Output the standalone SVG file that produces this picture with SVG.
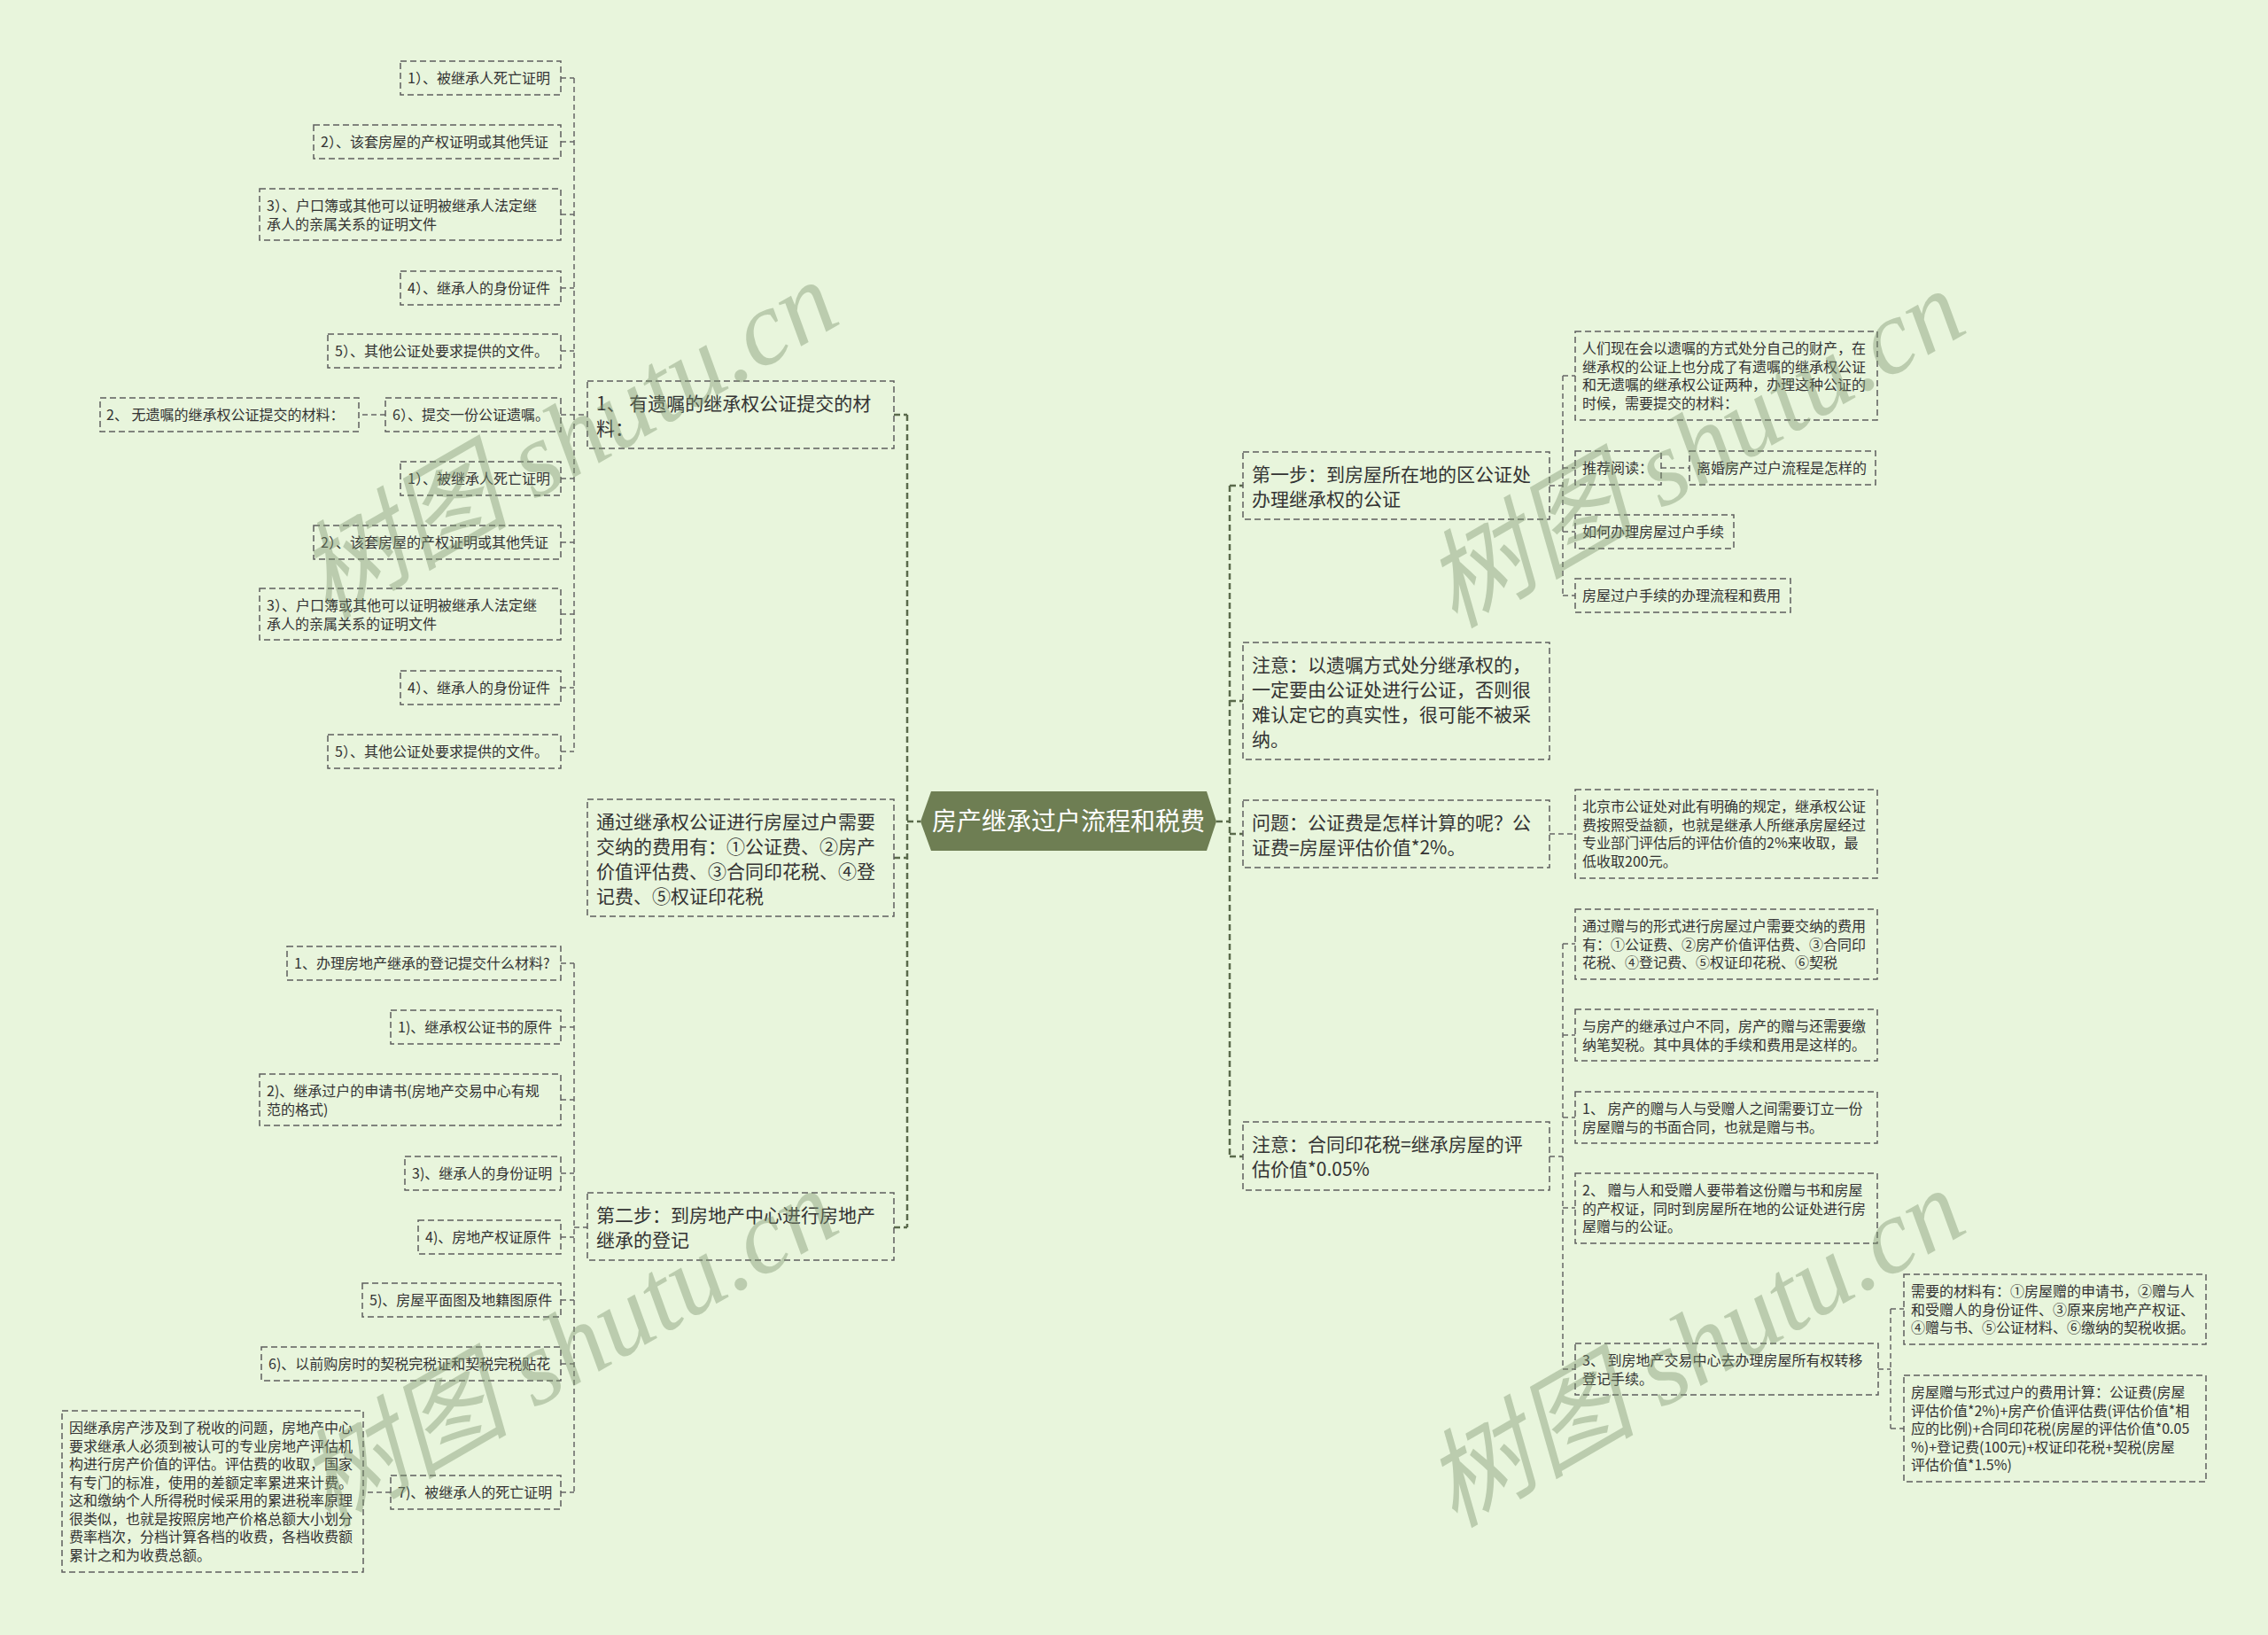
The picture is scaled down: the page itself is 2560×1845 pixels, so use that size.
<svg xmlns="http://www.w3.org/2000/svg" width="2560" height="1845" viewBox="0 0 2560 1845">
<style>
.bg{fill:#e8f5dc}
.box1,.box2{fill:none;stroke:#5e5e5e;stroke-width:1.5;stroke-dasharray:7 4}
.t1{font-family:"Noto Sans CJK SC","Noto Sans",sans-serif;font-size:21px;fill:#333}
.t2{font-family:"Noto Sans CJK SC","Noto Sans",sans-serif;font-size:16px;fill:#333}
.rt{font-family:"Noto Sans CJK SC","Noto Sans",sans-serif;font-size:28px;fill:#ffffff}
.trunk{fill:none;stroke:#5a6a4b;stroke-width:2.5;stroke-dasharray:7 4}
.link{fill:none;stroke:#666;stroke-width:1.5;stroke-dasharray:6 4}
.wm{font-family:"Liberation Serif","Noto Sans CJK SC",serif;font-style:italic;font-size:120px;fill:#7f9670;opacity:0.42}
</style>
<rect class="bg" x="0" y="0" width="2560" height="1845"/>

<g id="connectors">
  <path class="trunk" d="M1024,468 V1385 M1009,468 H1024 M1009,968 H1024 M1009,1385 H1024 M1024,927 H1039"/>
  <path class="trunk" d="M1388,548 V1305 M1373,927 H1388 M1388,548 H1403 M1388,791 H1403 M1388,941 H1403 M1388,1305 H1403"/>
  <path class="link" d="M648,88 V848 M633,88 H648 M633,160 H648 M633,242 H648 M633,325 H648 M633,396 H648 M633,468 H663 M633,540 H648 M633,612 H648 M633,693 H648 M633,776 H648 M633,848 H648"/>
  <path class="link" d="M435,468 H405"/>
  <path class="link" d="M648,1087 V1684 M633,1087 H648 M633,1159 H648 M633,1241 H648 M633,1324 H648 M633,1396 H648 M633,1467 H648 M633,1539 H648 M633,1684 H648 M648,1385 H663"/>
  <path class="link" d="M441,1684 H410"/>
  <path class="link" d="M1764,424 V672 M1749,548 H1764 M1764,424 H1778 M1764,528 H1778 M1764,600 H1778 M1764,672 H1778"/>
  <path class="link" d="M1875,528 H1907"/>
  <path class="link" d="M1749,941 H1778"/>
  <path class="link" d="M1764,1065 V1545 M1749,1305 H1764 M1764,1065 H1778 M1764,1168 H1778 M1764,1261 H1778 M1764,1363 H1778 M1764,1545 H1778"/>
  <path class="link" d="M2134,1477 V1612 M2120,1545 H2134 M2134,1477 H2149 M2134,1612 H2149"/>
</g>

<g id="root">
  <polygon points="1039,927 1051,893 1362,893 1373,927 1362,960 1051,960" fill="#6e7e53"/>
  <text class="rt" x="1206" y="937" text-anchor="middle">房产继承过户流程和税费</text>
</g>

<g id="L1a"><rect class="box1" x="663" y="430" width="346" height="76"/>
  <text class="t1"><tspan x="673" y="463">1、 有遗嘱的继承权公证提交的材</tspan><tspan x="673" y="491">料：</tspan></text></g>
<g id="L1b"><rect class="box1" x="663" y="902" width="346" height="132"/>
  <text class="t1"><tspan x="673" y="935">通过继承权公证进行房屋过户需要</tspan><tspan x="673" y="963">交纳的费用有：①公证费、②房产</tspan><tspan x="673" y="991">价值评估费、③合同印花税、④登</tspan><tspan x="673" y="1019">记费、⑤权证印花税</tspan></text></g>
<g id="L1c"><rect class="box1" x="663" y="1346" width="346" height="76"/>
  <text class="t1"><tspan x="673" y="1379">第二步：到房地产中心进行房地产</tspan><tspan x="673" y="1407">继承的登记</tspan></text></g>

<g id="R1"><rect class="box1" x="1403" y="510" width="346" height="76"/>
  <text class="t1"><tspan x="1413" y="543">第一步：到房屋所在地的区公证处</tspan><tspan x="1413" y="571">办理继承权的公证</tspan></text></g>
<g id="R2"><rect class="box1" x="1403" y="725" width="346" height="132"/>
  <text class="t1"><tspan x="1413" y="758">注意：以遗嘱方式处分继承权的，</tspan><tspan x="1413" y="786">一定要由公证处进行公证，否则很</tspan><tspan x="1413" y="814">难认定它的真实性，很可能不被采</tspan><tspan x="1413" y="842">纳。</tspan></text></g>
<g id="R3"><rect class="box1" x="1403" y="903" width="346" height="76"/>
  <text class="t1"><tspan x="1413" y="936">问题：公证费是怎样计算的呢？公</tspan><tspan x="1413" y="964">证费=房屋评估价值*2%。</tspan></text></g>
<g id="R4"><rect class="box1" x="1403" y="1266" width="346" height="77"/>
  <text class="t1"><tspan x="1413" y="1299">注意：合同印花税=继承房屋的评</tspan><tspan x="1413" y="1327">估价值*0.05%</tspan></text></g>

<g id="a1"><rect class="box2" x="452" y="69" width="181" height="38"/><text class="t2" x="460" y="94">1）、被继承人死亡证明</text></g>
<g id="a2"><rect class="box2" x="354" y="141" width="279" height="38"/><text class="t2" x="362" y="166">2）、该套房屋的产权证明或其他凭证</text></g>
<g id="a3"><rect class="box2" x="293" y="213" width="340" height="58"/><text class="t2"><tspan x="301" y="238">3）、户口簿或其他可以证明被继承人法定继</tspan><tspan x="301" y="258.5">承人的亲属关系的证明文件</tspan></text></g>
<g id="a4"><rect class="box2" x="452" y="306" width="181" height="38"/><text class="t2" x="460" y="331">4）、继承人的身份证件</text></g>
<g id="a5"><rect class="box2" x="370" y="377" width="263" height="38"/><text class="t2" x="378" y="402">5）、其他公证处要求提供的文件。</text></g>
<g id="a6"><rect class="box2" x="435" y="449" width="198" height="38"/><text class="t2" x="443" y="474">6）、提交一份公证遗嘱。</text></g>
<g id="a6c"><rect class="box2" x="113" y="449" width="292" height="38"/><text class="t2" x="120" y="474">2、 无遗嘱的继承权公证提交的材料：</text></g>
<g id="a7"><rect class="box2" x="452" y="521" width="181" height="38"/><text class="t2" x="460" y="546">1）、被继承人死亡证明</text></g>
<g id="a8"><rect class="box2" x="354" y="593" width="279" height="38"/><text class="t2" x="362" y="618">2）、该套房屋的产权证明或其他凭证</text></g>
<g id="a9"><rect class="box2" x="293" y="664" width="340" height="58"/><text class="t2"><tspan x="301" y="689">3）、户口簿或其他可以证明被继承人法定继</tspan><tspan x="301" y="709.5">承人的亲属关系的证明文件</tspan></text></g>
<g id="a10"><rect class="box2" x="452" y="757" width="181" height="38"/><text class="t2" x="460" y="782">4）、继承人的身份证件</text></g>
<g id="a11"><rect class="box2" x="370" y="829" width="263" height="38"/><text class="t2" x="378" y="854">5）、其他公证处要求提供的文件。</text></g>

<g id="b1"><rect class="box2" x="324" y="1068" width="309" height="38"/><text class="t2" x="332" y="1093">1、办理房地产继承的登记提交什么材料?</text></g>
<g id="b2"><rect class="box2" x="441" y="1140" width="192" height="38"/><text class="t2" x="449" y="1165">1)、继承权公证书的原件</text></g>
<g id="b3"><rect class="box2" x="293" y="1212" width="340" height="58"/><text class="t2"><tspan x="301" y="1237">2)、继承过户的申请书(房地产交易中心有规</tspan><tspan x="301" y="1257.5">范的格式)</tspan></text></g>
<g id="b4"><rect class="box2" x="457" y="1305" width="176" height="38"/><text class="t2" x="465" y="1330">3)、继承人的身份证明</text></g>
<g id="b5"><rect class="box2" x="472" y="1377" width="161" height="38"/><text class="t2" x="480" y="1402">4)、房地产权证原件</text></g>
<g id="b6"><rect class="box2" x="409" y="1448" width="224" height="38"/><text class="t2" x="417" y="1473">5)、房屋平面图及地籍图原件</text></g>
<g id="b7"><rect class="box2" x="295" y="1520" width="338" height="38"/><text class="t2" x="303" y="1545">6)、以前购房时的契税完税证和契税完税贴花</text></g>
<g id="b8"><rect class="box2" x="441" y="1665" width="192" height="38"/><text class="t2" x="449" y="1690">7)、被继承人的死亡证明</text></g>
<g id="b8c"><rect class="box2" x="70" y="1592" width="340" height="182"/><text class="t2"><tspan x="78" y="1617">因继承房产涉及到了税收的问题，房地产中心</tspan><tspan x="78" y="1637.5">要求继承人必须到被认可的专业房地产评估机</tspan><tspan x="78" y="1658">构进行房产价值的评估。评估费的收取，国家</tspan><tspan x="78" y="1678.5">有专门的标准，使用的差额定率累进来计费。</tspan><tspan x="78" y="1699">这和缴纳个人所得税时候采用的累进税率原理</tspan><tspan x="78" y="1719.5">很类似，也就是按照房地产价格总额大小划分</tspan><tspan x="78" y="1740">费率档次，分档计算各档的收费，各档收费额</tspan><tspan x="78" y="1760.5">累计之和为收费总额。</tspan></text></g>

<g id="c1"><rect class="box2" x="1778" y="374" width="341" height="100"/><text class="t2"><tspan x="1786" y="399">人们现在会以遗嘱的方式处分自己的财产，在</tspan><tspan x="1786" y="419.5">继承权的公证上也分成了有遗嘱的继承权公证</tspan><tspan x="1786" y="440">和无遗嘱的继承权公证两种，办理这种公证的</tspan><tspan x="1786" y="460.5">时候，需要提交的材料：</tspan></text></g>
<g id="c2"><rect class="box2" x="1778" y="509" width="97" height="38"/><text class="t2" x="1786" y="534">推荐阅读：</text></g>
<g id="c2c"><rect class="box2" x="1907" y="509" width="210" height="38"/><text class="t2" x="1915" y="534">离婚房产过户流程是怎样的</text></g>
<g id="c3"><rect class="box2" x="1778" y="581" width="179" height="38"/><text class="t2" x="1786" y="606">如何办理房屋过户手续</text></g>
<g id="c4"><rect class="box2" x="1778" y="653" width="243" height="38"/><text class="t2" x="1786" y="678">房屋过户手续的办理流程和费用</text></g>

<g id="d1"><rect class="box2" x="1778" y="891" width="341" height="100"/><text class="t2"><tspan x="1786" y="916">北京市公证处对此有明确的规定，继承权公证</tspan><tspan x="1786" y="936.5">费按照受益额，也就是继承人所继承房屋经过</tspan><tspan x="1786" y="957">专业部门评估后的评估价值的2%来收取，最</tspan><tspan x="1786" y="977.5">低收取200元。</tspan></text></g>

<g id="e1"><rect class="box2" x="1778" y="1026" width="341" height="79"/><text class="t2"><tspan x="1786" y="1051">通过赠与的形式进行房屋过户需要交纳的费用</tspan><tspan x="1786" y="1071.5">有：①公证费、②房产价值评估费、③合同印</tspan><tspan x="1786" y="1092">花税、④登记费、⑤权证印花税、⑥契税</tspan></text></g>
<g id="e2"><rect class="box2" x="1778" y="1139" width="341" height="58"/><text class="t2"><tspan x="1786" y="1164">与房产的继承过户不同，房产的赠与还需要缴</tspan><tspan x="1786" y="1184.5">纳笔契税。其中具体的手续和费用是这样的。</tspan></text></g>
<g id="e3"><rect class="box2" x="1778" y="1232" width="341" height="58"/><text class="t2"><tspan x="1786" y="1257">1、 房产的赠与人与受赠人之间需要订立一份</tspan><tspan x="1786" y="1277.5">房屋赠与的书面合同，也就是赠与书。</tspan></text></g>
<g id="e4"><rect class="box2" x="1778" y="1324" width="341" height="79"/><text class="t2"><tspan x="1786" y="1349">2、 赠与人和受赠人要带着这份赠与书和房屋</tspan><tspan x="1786" y="1369.5">的产权证，同时到房屋所在地的公证处进行房</tspan><tspan x="1786" y="1390">屋赠与的公证。</tspan></text></g>
<g id="e5"><rect class="box2" x="1778" y="1516" width="342" height="58"/><text class="t2"><tspan x="1786" y="1541">3、 到房地产交易中心去办理房屋所有权转移</tspan><tspan x="1786" y="1561.5">登记手续。</tspan></text></g>

<g id="f1"><rect class="box2" x="2149" y="1438" width="341" height="79"/><text class="t2"><tspan x="2157" y="1463">需要的材料有：①房屋赠的申请书，②赠与人</tspan><tspan x="2157" y="1483.5">和受赠人的身份证件、③原来房地产产权证、</tspan><tspan x="2157" y="1504">④赠与书、⑤公证材料、⑥缴纳的契税收据。</tspan></text></g>
<g id="f2"><rect class="box2" x="2149" y="1552" width="341" height="120"/><text class="t2"><tspan x="2157" y="1577">房屋赠与形式过户的费用计算：公证费(房屋</tspan><tspan x="2157" y="1597.5">评估价值*2%)+房产价值评估费(评估价值*相</tspan><tspan x="2157" y="1618">应的比例)+合同印花税(房屋的评估价值*0.05</tspan><tspan x="2157" y="1638.5">%)+登记费(100元)+权证印花税+契税(房屋</tspan><tspan x="2157" y="1659">评估价值*1.5%)</tspan></text></g>

<g id="watermarks">
  <text class="wm" transform="translate(640,495) rotate(-30)" text-anchor="middle" dy="0.35em">树图 shutu.cn</text>
  <text class="wm" transform="translate(1912,505) rotate(-30)" text-anchor="middle" dy="0.35em">树图 shutu.cn</text>
  <text class="wm" transform="translate(640,1520) rotate(-30)" text-anchor="middle" dy="0.35em">树图 shutu.cn</text>
  <text class="wm" transform="translate(1912,1520) rotate(-30)" text-anchor="middle" dy="0.35em">树图 shutu.cn</text>
</g>
</svg>
